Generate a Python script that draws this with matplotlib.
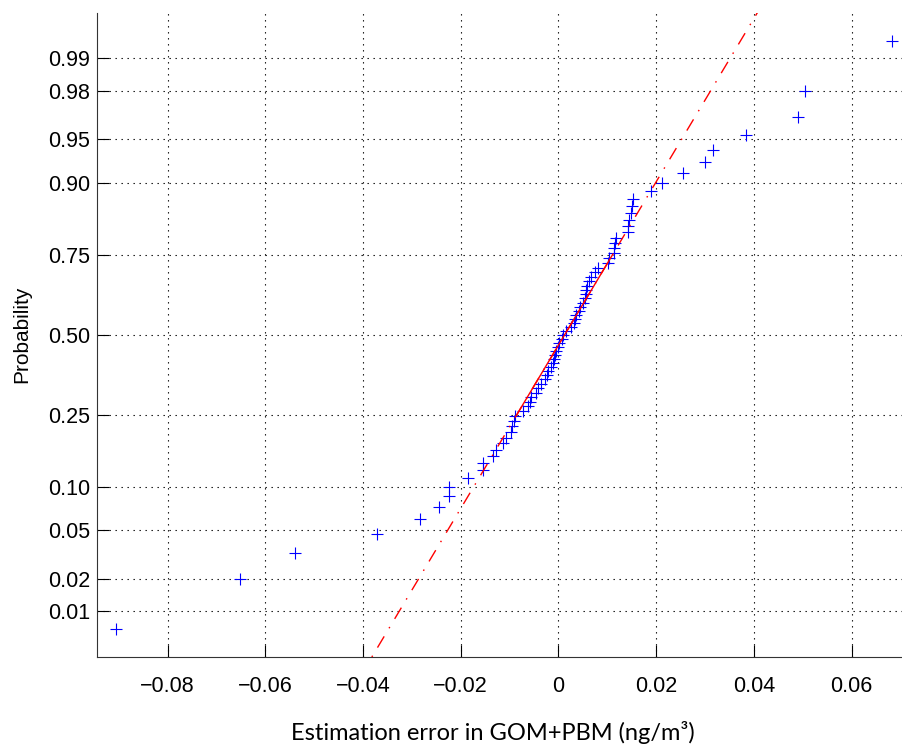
import matplotlib
matplotlib.use("Agg")
import matplotlib.pyplot as plt
import numpy as np
from statistics import NormalDist

# Estimation errors (ng/m3), one per station/sample
errors = [
    -0.0905, -0.0651, -0.0540, -0.0371, -0.0283, -0.0244, -0.0225, -0.0225,
    -0.0186, -0.0155, -0.0155, -0.0134, -0.0128, -0.0114, -0.0107, -0.0097,
    -0.0095, -0.0091, -0.0090, -0.0072, -0.0063, -0.0059, -0.0056, -0.0046,
    -0.0042, -0.0035, -0.0027, -0.0024, -0.0022, -0.0016, -0.0012, -0.0009,
    -0.0007, -0.0005, -0.0002, 0.0002, 0.0008, 0.0010, 0.0016, 0.0026,
    0.0031, 0.0034, 0.0036, 0.0043, 0.0045, 0.0050, 0.0054, 0.0056,
    0.0057, 0.0058, 0.0062, 0.0067, 0.0075, 0.0080, 0.0101, 0.0104,
    0.0113, 0.0114, 0.0115, 0.0118, 0.0143, 0.0143, 0.0144, 0.0149,
    0.0150, 0.0152, 0.0190, 0.0212, 0.0254, 0.0299, 0.0317, 0.0383,
    0.0490, 0.0504, 0.0683,
]

prob_ticks = [0.01, 0.02, 0.05, 0.10, 0.25, 0.50, 0.75, 0.90, 0.95, 0.98, 0.99]
prob_labels = ["0.01", "0.02", "0.05", "0.10", "0.25", "0.50",
               "0.75", "0.90", "0.95", "0.98", "0.99"]
x_ticks = [-0.08, -0.06, -0.04, -0.02, 0.0, 0.02, 0.04, 0.06]
x_labels = ["\u22120.08", "\u22120.06", "\u22120.04", "\u22120.02",
            "0", "0.02", "0.04", "0.06"]

nd = NormalDist()
x = np.sort(np.asarray(errors))
n = len(x)
p = (np.arange(1, n + 1) - 0.5) / n
z = np.array([nd.inv_cdf(v) for v in p])


def prctile(v, q):
    # percentile with positions (i - 0.5) / n, linear in between
    pos = q / 100.0 * len(v) + 0.5
    lo = int(np.floor(pos))
    frac = pos - lo
    return v[lo - 1] + frac * (v[lo] - v[lo - 1])


q1, q3 = prctile(x, 25), prctile(x, 75)
z25, z75 = nd.inv_cdf(0.25), nd.inv_cdf(0.75)
slope = (q3 - q1) / (z75 - z25)

zlo = nd.inv_cdf(0.25 / n)
zhi = -zlo
span = x[-1] - x[0]
xlo, xhi = x[0] - 0.025 * span, x[-1] + 0.025 * span

W, H = 903, 747
fig = plt.figure(figsize=(W / 100, H / 100), dpi=100)
ax_left = 97 / W
ax_bottom = (H - 657) / H
ax_h = (657 - 12.5) / H
ax_w = (xhi - xlo) * 4885 / W
ax = fig.add_axes([ax_left, ax_bottom, ax_w, ax_h])

tick_font = dict(family=["Liberation Sans", "DejaVu Sans"], size=15.5)

# grid
grid_kw = dict(color="black", lw=0.8, dashes=(1.2, 4.2), zorder=1)
for xt in x_ticks:
    ax.axvline(xt, **grid_kw)
for pt in prob_ticks:
    ax.axhline(nd.inv_cdf(pt), **grid_kw)

ax.plot(x, z, linestyle="none", marker="+", color=(0, 0, 1),
        markersize=9, markeredgewidth=0.8, zorder=3)

# reference line through the quartiles
zz = np.array([zlo, zhi])
ax.plot(q1 + (zz - z25) * slope, zz, color=(1, 0, 0), lw=1.0,
        dashes=(1.1, 6.8, 9.4, 6.8), zorder=4)
zq = np.array([z25, z75])
ax.plot(q1 + (zq - z25) * slope, zq, color=(1, 0, 0), lw=1.0, zorder=4)

ax.set_xlim(xlo, xhi)
ax.set_ylim(zlo, zhi)
ax.set_xticks(x_ticks)
ax.set_xticklabels(x_labels, **tick_font)
ax.set_yticks([nd.inv_cdf(v) for v in prob_ticks])
ax.set_yticklabels(prob_labels, **tick_font)
ax.tick_params(direction="in", length=8.6, width=0.8, color="black", pad=5)
ax.tick_params(axis="x", pad=14)
for side in ("top", "right"):
    ax.spines[side].set_visible(False)
for side in ("left", "bottom"):
    ax.spines[side].set_linewidth(0.8)
    ax.spines[side].set_color("#333333")

fig.text(22 / W, 1 - 334 / H, "Probability", rotation=90, ha="center",
         va="center", fontsize=15, family=["Liberation Sans", "DejaVu Sans"])
fig.text(493 / W, 1 - 733 / H, "Estimation error in GOM+PBM (ng/m\u00b3)",
         ha="center", va="center", fontsize=17,
         family=["Lato", "DejaVu Sans"])

fig.savefig("out.png", dpi=100, facecolor="white")
